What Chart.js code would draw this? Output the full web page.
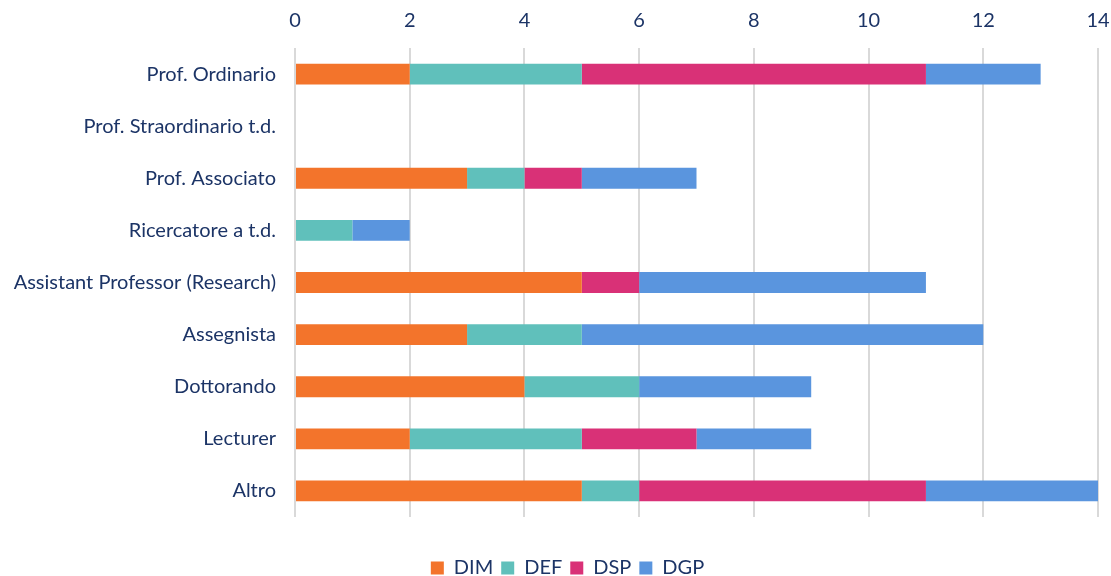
<!DOCTYPE html>
<html>
<head>
<meta charset="utf-8">
<script src="https://cdn.jsdelivr.net/npm/chart.js@4/dist/chart.umd.min.js"></script>
<style>
  html, body { margin: 0; padding: 0; background: #fff; }
  #wrap { width: 1111px; height: 576px; }
</style>
</head>
<body>
<div id="wrap"><canvas id="chart"></canvas></div>
<script>
// Data
const categories = ['Prof. Ordinario', 'Prof. Straordinario t.d.', 'Prof. Associato', 'Ricercatore a t.d.',
    'Assistant Professor (Research)', 'Assegnista', 'Dottorando', 'Lecturer', 'Altro'];
const dim = [2, 0, 3, 0, 5, 3, 4, 2, 5];
const def = [3, 0, 1, 1, 0, 2, 2, 3, 1];
const dsp = [6, 0, 1, 0, 1, 0, 0, 2, 5];
const dgp = [2, 0, 2, 1, 5, 7, 3, 2, 3];
const seriesNames = ['DIM', 'DEF', 'DSP', 'DGP'];
const xMin = 0, xMax = 14, xStep = 2;

const textColor = '#1c3466';
const colors = ['#f3742b', '#60c0bb', '#d93177', '#5a95de'];
const fontFamily = 'Lato';

// fixed legend block height, items pushed down a bit
const legendGap = {
    id: 'legendGap',
    beforeInit(chart) {
        const legend = chart.legend;
        const origFit = legend.fit;
        legend.fit = function () {
            origFit.call(this);
            this.height = 59;
        };
        const origDraw = legend.draw;
        legend.draw = function () {
            const c = this.ctx;
            c.save();
            c.translate(12, 33);
            origDraw.call(this);
            c.restore();
        };
    }
};

const ctx = document.getElementById('chart').getContext('2d');
new Chart(ctx, {
    type: 'bar',
    data: {
        labels: categories,
        datasets: [dim, def, dsp, dgp].map((vals, i) => ({
            label: seriesNames[i],
            data: vals,
            backgroundColor: colors[i],
            borderWidth: 0,
            barPercentage: 0.8,
            categoryPercentage: 0.5
        }))
    },
    options: {
        indexAxis: 'y',
        responsive: true,
        maintainAspectRatio: false,
        animation: false,
        layout: { padding: 0 },
        plugins: {
            legend: {
                position: 'bottom',
                labels: {
                    color: textColor,
                    font: { family: fontFamily, size: 20 },
                    boxWidth: 13,
                    boxHeight: 13,
                    padding: 8
                }
            },
            tooltip: { enabled: false }
        },
        scales: {
            x: {
                position: 'top',
                stacked: true,
                min: xMin,
                max: xMax,
                ticks: {
                    stepSize: xStep,
                    color: textColor,
                    font: { family: fontFamily, size: 20 },
                    padding: 15
                },
                grid: { color: '#d9d9d9', lineWidth: 2, drawTicks: false },
                border: { display: false },
                afterFit: (scale) => {
                    scale.height = 48;
                    scale.paddingRight = 13;
                }
            },
            y: {
                stacked: true,
                ticks: {
                    color: textColor,
                    font: { family: fontFamily, size: 20 },
                    padding: 11
                },
                grid: { display: false },
                border: { display: false },
                afterFit: (scale) => { scale.width = 295; }
            }
        }
    },
    plugins: [legendGap]
});
</script>
</body>
</html>
